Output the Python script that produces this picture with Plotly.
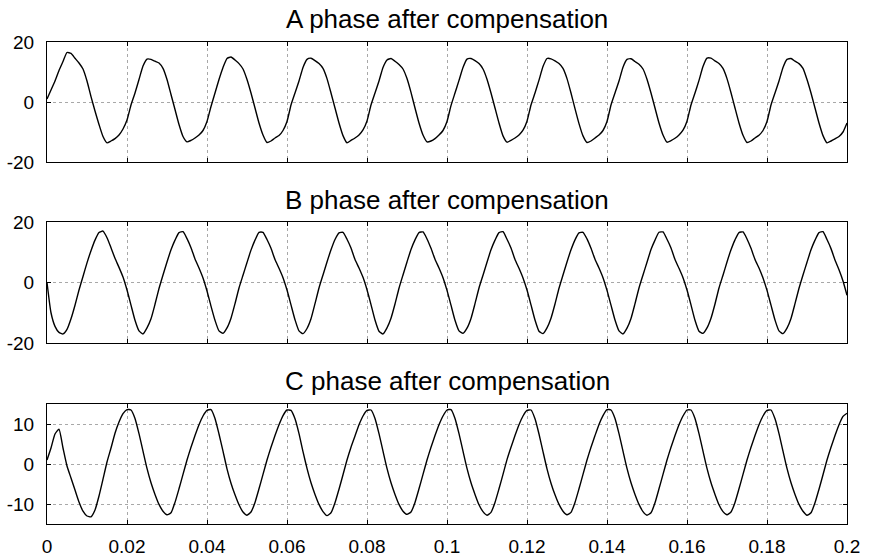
import plotly.graph_objects as go

# sample times (s), 1 ms spacing
t = [i / 1000 for i in range(201)]

phase_a = [
    1, 4, 7, 10.5, 13.5, 16.5, 16.2, 14.6, 13, 11, 7, 1.8, -3, -7.5, -11.5, -13.6, -13, -12.2, -11, -9,
    -6, -1, 3, 7.5, 12, 14.3, 14.2, 13.6, 13, 11.2, 7.5, 2.5, -2.5, -7.5, -11.5, -13.3, -12.8, -12, -11, -9.5,
    -6.5, -1.5, 3, 7.5, 11.5, 14.5, 15, 14, 12.8, 11, 7.5, 3, -2, -7, -11, -13.5, -13, -12, -11.2, -9.5,
    -6.5, -1, 3, 7, 11.5, 14.2, 14.6, 13.8, 12.8, 11.2, 7.8, 3, -2, -7, -11.2, -13.6, -12.8, -12, -11, -9.3,
    -6.3, -1, 3, 7, 11.5, 14, 14.5, 13.6, 12.5, 11, 7.8, 3.2, -2, -7, -11, -13.3, -13, -12.2, -11, -9.5,
    -6.5, -1.2, 3, 7.2, 11.5, 14.3, 14.5, 13.8, 12.8, 11, 7.6, 3, -2, -7, -11.3, -13.4, -12.8, -12, -11, -9.4,
    -6.4, -1, 3, 7.3, 11.8, 14.5, 14.4, 13.7, 12.8, 11.2, 7.8, 3, -2.2, -7.2, -11.3, -13.5, -13, -12, -11, -9.5,
    -6.5, -1, 3, 7, 11.6, 14.2, 14.4, 13.5, 12.6, 11, 7.6, 3, -2, -7, -11, -13.4, -12.9, -12.1, -11, -9.4,
    -6.4, -1, 3, 7.2, 11.8, 14.6, 14.6, 13.7, 12.8, 11.2, 7.8, 3.1, -2, -7, -11.1, -13.5, -13, -12, -11.1, -9.5,
    -6.5, -1, 3, 7, 11.5, 14.2, 14.5, 13.6, 12.8, 11.2, 7.5, 3, -2, -7, -11.2, -13.6, -13, -12.3, -11.5, -10,
    -7,
]

phase_b = [
    0, -10, -14.5, -16.5, -17, -15.5, -12, -7.5, -2.5, 2, 6.5, 10.5, 14, 16.5, 17, 14.8, 11.5, 8, 5, 1.8,
    -2.5, -7.5, -12.5, -16, -17, -15, -12, -7.2, -2, 2.5, 6.8, 10.8, 14, 16.5, 16.8, 14.5, 11.5, 7.8, 4.8, 1.5,
    -2.8, -7.8, -12.5, -16, -16.8, -15, -11.8, -7, -1.8, 2.4, 6.6, 10.7, 14, 16.6, 16.6, 14.2, 11.3, 7.6, 4.7, 1.6,
    -2.5, -7.4, -12.3, -16, -16.9, -15.2, -12, -7, -1.8, 2.5, 6.8, 10.8, 14.2, 16.4, 16.6, 14.3, 11.4, 7.6, 4.8, 1.7,
    -2.4, -7.3, -12.4, -16.1, -17, -15, -11.8, -7.1, -1.9, 2.5, 6.8, 10.9, 14.1, 16.5, 16.7, 14.4, 11.3, 7.7, 4.8, 1.6,
    -2.6, -7.5, -12.5, -16, -16.8, -15.1, -11.9, -7, -1.8, 2.4, 6.7, 10.8, 14, 16.5, 16.8, 14.3, 11.4, 7.6, 4.7, 1.5,
    -2.5, -7.4, -12.4, -16.1, -16.9, -15, -11.8, -7.1, -1.9, 2.5, 6.8, 10.8, 14.1, 16.4, 16.6, 14.4, 11.3, 7.7, 4.8, 1.6,
    -2.6, -7.5, -12.4, -16, -17, -15.1, -11.9, -7, -1.8, 2.5, 6.7, 10.9, 14, 16.6, 16.7, 14.3, 11.4, 7.6, 4.7, 1.6,
    -2.5, -7.4, -12.5, -16.1, -16.8, -15, -11.8, -7.1, -1.8, 2.4, 6.8, 10.8, 14.1, 16.5, 16.7, 14.4, 11.3, 7.6, 4.8, 1.5,
    -2.6, -7.5, -12.4, -16, -16.9, -15.1, -11.9, -7, -1.9, 2.5, 6.7, 10.8, 14, 16.5, 16.8, 14.2, 11.2, 7.4, 4.2, 0.5,
    -4.2,
]

phase_c = [
    1, 4, 7.5, 8.7, 4, -0.5, -3.5, -6.5, -9.5, -11.8, -13, -13.2, -11.5, -8, -3.8, 0.5, 4, 7.7, 10.5, 12.6,
    13.6, 13.5, 11.4, 7.6, 3.2, -1.1, -4.7, -7.6, -10.1, -11.8, -12.7, -12.2, -9.6, -6.2, -2.6, 1, 4.2, 7.1, 9.8, 12,
    13.4, 13.6, 11.4, 7.5, 3.2, -1.2, -4.8, -7.7, -10.2, -12, -12.8, -12, -9.6, -6.2, -2.6, 1, 4.2, 7.1, 9.8, 12.1,
    13.5, 13.4, 11.3, 7.6, 3.1, -1.1, -4.7, -7.6, -10.1, -11.9, -12.9, -12.2, -9.7, -6.3, -2.7, 1, 4.2, 7, 9.8, 12,
    13.4, 13.5, 11.4, 7.6, 3.2, -1.1, -4.7, -7.6, -10.1, -11.8, -12.6, -12, -9.6, -6.2, -2.6, 1, 4.2, 7.1, 9.8, 12,
    13.5, 13.6, 11.4, 7.6, 3.2, -1.1, -4.7, -7.6, -10.2, -11.9, -12.8, -12.1, -9.6, -6.2, -2.6, 1.1, 4.2, 7.1, 9.8, 12,
    13.4, 13.5, 11.3, 7.5, 3.1, -1.2, -4.8, -7.7, -10.1, -11.8, -12.7, -12.1, -9.6, -6.2, -2.6, 1, 4.2, 7.1, 9.9, 12.1,
    13.6, 13.5, 11.4, 7.6, 3.2, -1.1, -4.7, -7.6, -10.1, -11.9, -12.8, -12.2, -9.7, -6.2, -2.6, 1, 4.2, 7.1, 9.8, 12,
    13.5, 13.5, 11.4, 7.6, 3.2, -1.1, -4.7, -7.6, -10.2, -11.9, -12.7, -12, -9.6, -6.2, -2.6, 1, 4.2, 7.1, 9.8, 12,
    13.4, 13.5, 11.3, 7.6, 3.2, -1.1, -4.7, -7.6, -10.1, -11.8, -12.8, -12.2, -9.7, -6.3, -2.7, 1, 4.2, 7.1, 9.8, 11.9,
    12.7,
]

titles = ["A phase after compensation", "B phase after compensation", "C phase after compensation"]
x_tickvals = [0, 0.02, 0.04, 0.06, 0.08, 0.1, 0.12, 0.14, 0.16, 0.18, 0.2]
x_ticktext = ["0", "0.02", "0.04", "0.06", "0.08", "0.1", "0.12", "0.14", "0.16", "0.18", "0.2"]
y_ticks_ab = [-20, 0, 20]
y_ticks_c = [-10, 0, 10]

W, H = 870, 559
FONT = "Arial, Liberation Sans, sans-serif"

fig = go.Figure()
series = [phase_a, phase_b, phase_c]
for i, ys in enumerate(series):
    sfx = "" if i == 0 else str(i + 1)
    fig.add_trace(go.Scatter(x=t, y=ys, mode="lines", xaxis="x" + sfx, yaxis="y" + sfx,
                             line=dict(color="black", width=1.4, shape="spline", smoothing=0.5),
                             showlegend=False, hoverinfo="skip"))

x0, x1 = 47 / W, 847 / W
rows_px = [(42, 162), (222, 343), (404, 524)]
title_y_px = [19, 200, 381]

def ax_common():
    return dict(showline=True, linecolor="black", linewidth=1, mirror="ticks",
                ticks="inside", ticklen=4, tickcolor="black", tickwidth=1,
                showgrid=True, gridcolor="#a8a8a8", gridwidth=1, griddash="dot",
                zeroline=False, automargin=False,
                tickfont=dict(family=FONT, size=19, color="black"))

layout = dict(width=W, height=H, margin=dict(l=0, r=0, t=0, b=0, autoexpand=False),
              paper_bgcolor="white", plot_bgcolor="white", showlegend=False)
annotations = []
for i, (top, bot) in enumerate(rows_px):
    sfx = "" if i == 0 else str(i + 1)
    xa = ax_common()
    xa.update(domain=[x0, x1], range=[0, 0.2], anchor="y" + sfx,
              tickvals=x_tickvals, ticktext=x_ticktext, showticklabels=(i == 2),
              ticklabelstandoff=5)
    ya = ax_common()
    yt = y_ticks_c if i == 2 else y_ticks_ab
    yr = [-15, 15] if i == 2 else [-20, 20]
    ya.update(domain=[1 - bot / H, 1 - top / H], range=yr, anchor="x" + sfx,
              tickvals=yt, ticktext=[str(v) for v in yt], ticklabelstandoff=8)
    layout["xaxis" + sfx] = xa
    layout["yaxis" + sfx] = ya
    annotations.append(dict(text=titles[i], x=(x0 + x1) / 2, y=1 - title_y_px[i] / H,
                            xref="paper", yref="paper", xanchor="center", yanchor="middle",
                            showarrow=False, font=dict(family=FONT, size=26, color="black")))
layout["annotations"] = annotations
fig.update_layout(**layout)
fig.write_html("out.html")
